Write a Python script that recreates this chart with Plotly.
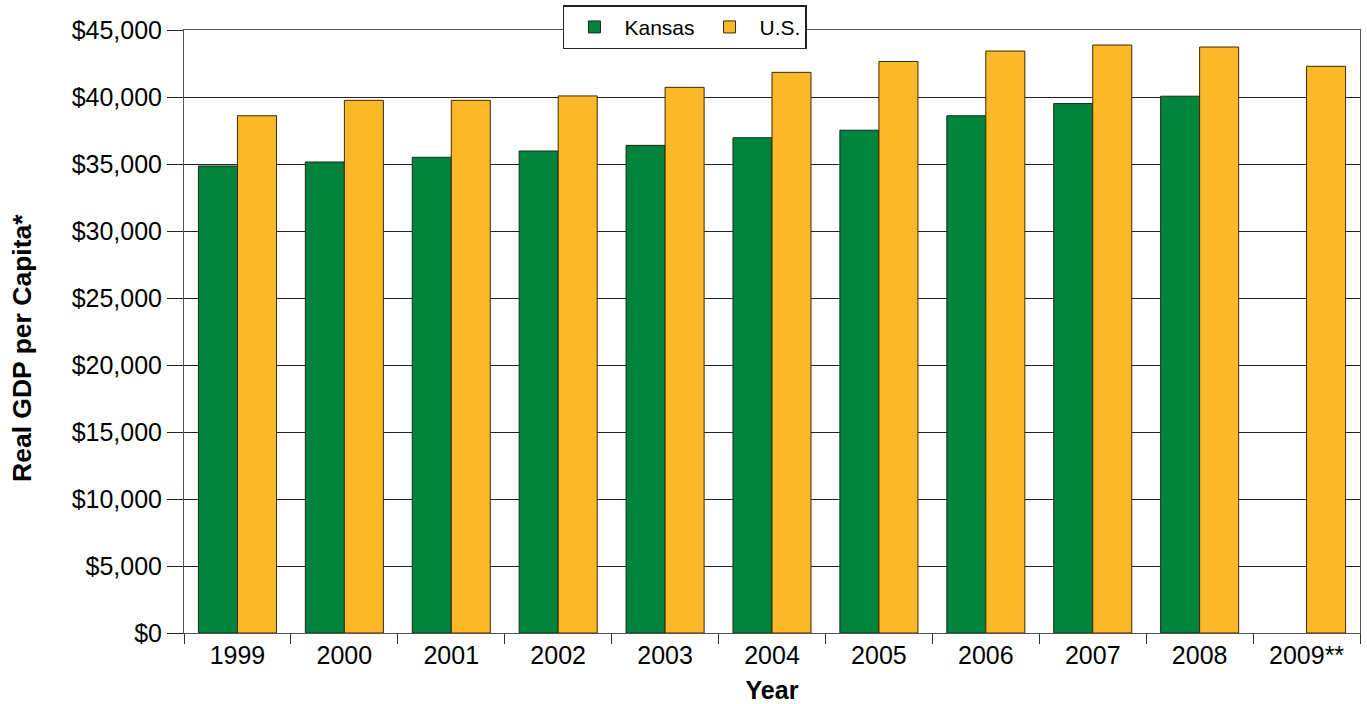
import plotly.graph_objects as go

years = ["1999", "2000", "2001", "2002", "2003", "2004", "2005", "2006", "2007", "2008", "2009**"]
kansas = [34850, 35150, 35500, 35970, 36390, 36960, 37520, 38600, 39510, 40060, None]
us = [38600, 39750, 39750, 40080, 40720, 41840, 42650, 43430, 43880, 43730, 42290]

FONT = "Liberation Sans, Arial, sans-serif"

fig = go.Figure()
fig.add_trace(go.Bar(x=years, y=kansas, name="Kansas",
                     marker=dict(color="#00843D", line=dict(color="#1a2a1a", width=1))))
fig.add_trace(go.Bar(x=years, y=us, name="U.S.",
                     marker=dict(color="#FBB829", line=dict(color="#3a2a00", width=1))))

fig.update_layout(
    width=1367, height=704,
    margin=dict(l=184, r=7, t=30, b=71, autoexpand=False),
    paper_bgcolor="white", plot_bgcolor="white",
    barmode="group", bargap=0.27, bargroupgap=0,
    font=dict(family=FONT, color="black", size=25),
    showlegend=True,
    legend=dict(orientation="h", x=0.426, xanchor="center", y=1.041, yanchor="top",
                bgcolor="white", bordercolor="#222", borderwidth=1.5,
                font=dict(size=21, family=FONT), itemwidth=50, traceorder="normal"),
    xaxis=dict(
        type="category", tickson="boundaries", ticks="outside", ticklen=10,
        tickcolor="#333", tickwidth=1, showline=True, linecolor="#555", linewidth=1,
        mirror=True, showgrid=False,
        tickfont=dict(size=25, family=FONT),
        title=dict(text="<b>Year</b>", font=dict(size=25, family=FONT), standoff=14),
    ),
    yaxis=dict(
        range=[0, 45000], tickvals=list(range(0, 45001, 5000)),
        tickformat="$,.0f", ticks="outside", ticklen=16, tickcolor="#222", tickwidth=1,
        showline=True, linecolor="#555", linewidth=1, mirror=True,
        showgrid=True, gridcolor="#222", gridwidth=1, zeroline=False,
        tickfont=dict(size=25, family=FONT),
    ),
    annotations=[dict(
        text="<b>Real GDP per Capita*</b>", xref="paper", yref="paper",
        x=-0.1378, y=0.4726, xanchor="center", yanchor="middle", textangle=-90,
        showarrow=False, font=dict(size=26.5, family=FONT, color="black"),
    )],
)

fig.write_html("out.html")
